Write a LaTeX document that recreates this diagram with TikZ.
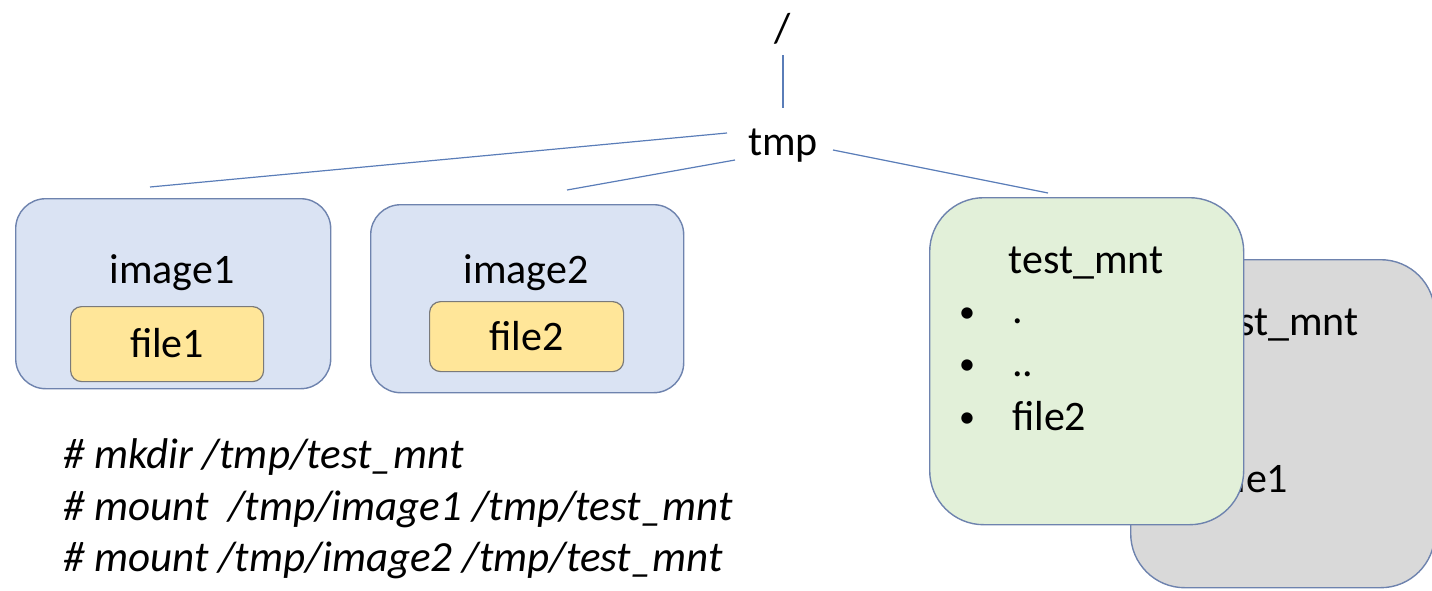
\documentclass[tikz,border=0pt]{standalone}
\usepackage{fontspec}
\setmainfont{Carlito}
\definecolor{bluefill}{HTML}{DAE3F3}
\definecolor{boxline}{HTML}{6E83AE}
\definecolor{yellowfill}{HTML}{FFE699}
\definecolor{yellowline}{HTML}{7A7A7A}
\definecolor{greenfill}{HTML}{E2F0D9}
\definecolor{grayfill}{HTML}{D9D9D9}
\definecolor{linkcol}{HTML}{5A7DB8}
\tikzset{
  txt/.style={inner sep=0pt, anchor=base, font=\fontsize{42}{50}\selectfont},
  txtw/.style={inner sep=0pt, anchor=base west, font=\fontsize{42}{50}\selectfont},
  bul/.style={inner sep=0pt, anchor=base, font=\fontsize{32}{38}\selectfont},
  cmd/.style={inner sep=0pt, anchor=base west, font=\fontsize{43}{50}\selectfont\itshape},
  imgbox/.style={draw=boxline, fill=bluefill, line width=1.4pt, rounded corners=30pt},
  filebox/.style={draw=yellowline, fill=yellowfill, line width=1.2pt, rounded corners=11pt},
  mntbox/.style={draw=boxline, line width=1.4pt, rounded corners=54pt},
  link/.style={draw=linkcol, line width=1.2pt},
}
\begin{document}
\begin{tikzpicture}[x=1pt, y=-1pt]
\useasboundingbox (0,0) rectangle (1432,590);
\clip (0,0) rectangle (1432,590);

% root and tmp
\node[txt] (root) at (783,42) {/};
\coordinate (rootlow) at (783,55);
\coordinate (tmptop) at (783,108);
\draw[link] (rootlow) -- (tmptop);
\node[txt] (tmp) at (783,155) {tmp};

% image1
\node[imgbox, minimum width=315pt, minimum height=190pt, anchor=north west] (img1) at (15,198) {};
\node[txt] (img1lbl) at (172,283) {image1};
\node[filebox, minimum width=193pt, minimum height=75pt, anchor=north west] (f1box) at (70,306) {};
\node[txt] (f1lbl) at (f1box.center |- 0,357) {file1};

% image2
\node[imgbox, minimum width=313pt, minimum height=188pt, anchor=north west] (img2) at (370,204) {};
\node[txt] (img2lbl) at (526,283) {image2};
\node[filebox, minimum width=194pt, minimum height=70pt, anchor=north west] (f2box) at (429,301) {};
\node[txt] (f2lbl) at (f2box.center |- 0,350) {file2};

% gray test_mnt (underneath)
\node[mntbox, fill=grayfill, minimum width=304pt, minimum height=328pt, anchor=north west] (mntold) at (1130,259) {};
\node[txt] (mntoldlbl) at (1281,335) {test\_mnt};
\node[txtw] (mntoldf) at (1214,492) {file1};

% green test_mnt
\node[mntbox, fill=greenfill, minimum width=314pt, minimum height=327pt, anchor=north west] (mnt) at (929,197) {};
\node[txt] (mntlbl) at (1086,273) {test\_mnt};
\node[bul] (b1) at (967,322) {•};
\node[bul] (b2) at (967,374) {•};
\node[bul] (b3) at (967,427) {•};
\node[txtw] (i1) at (1012,323) {.};
\node[txtw] (i2) at (1012,376) {..};
\node[txtw] (i3) at (1012,430) {file2};

% connectors from tmp
\coordinate (t1) at (727,133);
\coordinate (e1) at (150,187);
\coordinate (t2) at (735,160);
\coordinate (e2) at (567,190);
\coordinate (t3) at (833,150);
\coordinate (e3) at (1048,193);
\draw[link] (t1) -- (e1);
\draw[link] (t2) -- (e2);
\draw[link] (t3) -- (e3);

% commands
\node[cmd] (c1) at (63,468) {\# mkdir /tmp/test\_mnt};
\node[cmd] (c2) at (63,520) {\# mount\ \ /tmp/image1 /tmp/test\_mnt};
\node[cmd] (c3) at (63,571) {\# mount /tmp/image2 /tmp/test\_mnt};
\end{tikzpicture}
\end{document}
